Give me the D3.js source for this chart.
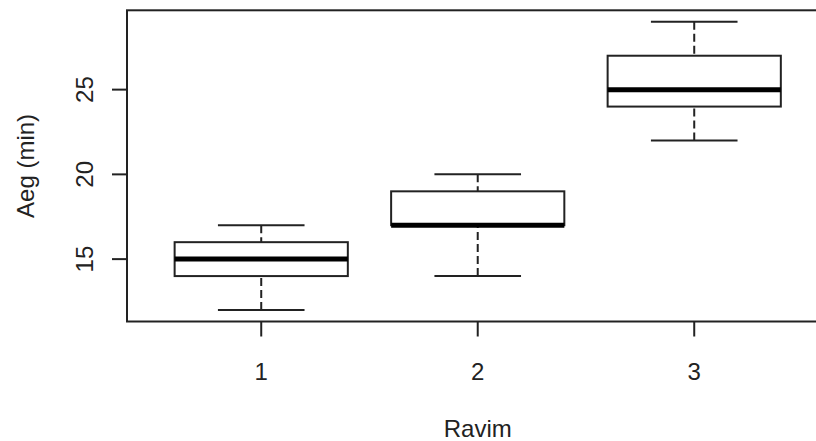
<!DOCTYPE html>
<html>
<head>
<meta charset="utf-8">
<script src="https://cdn.jsdelivr.net/npm/d3@7"></script>
<style>
  body { margin: 0; background: #fff; }
  svg { display: block; font-family: "Liberation Sans", Arial, sans-serif; }
</style>
</head>
<body>
<div id="chart"></div>
<script>
// boxplot stats per group
const groups = [1, 2, 3];
const lowerWhisker = [12, 14, 22];
const q1 = [14, 17, 24];
const median = [15, 17, 25];
const q3 = [16, 19, 27];
const upperWhisker = [17, 20, 29];
const yTicks = [15, 20, 25];
const xLabel = "Ravim";
const yLabel = "Aeg (min)";

const W = 816, H = 441;
const plot = { left: 127, top: 10.3, bottom: 321.5 };

const svg = d3.select("#chart").append("svg")
  .attr("width", W).attr("height", H);

// R style limits: 0.5..n+0.5 and data range, each padded by 4%
const xlo = 0.5 - 0.04 * groups.length, xhi = groups.length + 0.5 + 0.04 * groups.length;
const ymin = d3.min(lowerWhisker), ymax = d3.max(upperWhisker);
const ypad = (ymax - ymin) * 0.04;

const x = d3.scaleLinear().domain([xlo, xhi]).range([plot.left, plot.left + (xhi - xlo) * 216.5]);
const y = d3.scaleLinear().domain([ymin - ypad, ymax + ypad]).range([plot.bottom, plot.top]);

const ink = "#222";
const data = groups.map((g, i) => ({
  g, lo: lowerWhisker[i], q1: q1[i], med: median[i], q3: q3[i], hi: upperWhisker[i]
}));

const box = svg.append("g").selectAll("g").data(data).join("g");

// whiskers (dashed, drawn from whisker end toward the box)
box.append("line")
  .attr("x1", d => x(d.g)).attr("x2", d => x(d.g))
  .attr("y1", d => y(d.lo)).attr("y2", d => y(d.q1))
  .attr("stroke", ink).attr("stroke-width", 2).attr("stroke-dasharray", "8,4");
box.append("line")
  .attr("x1", d => x(d.g)).attr("x2", d => x(d.g))
  .attr("y1", d => y(d.hi)).attr("y2", d => y(d.q3))
  .attr("stroke", ink).attr("stroke-width", 2).attr("stroke-dasharray", "8,4");

// whisker caps
["lo", "hi"].forEach(k => {
  box.append("line")
    .attr("x1", d => x(d.g - 0.2)).attr("x2", d => x(d.g + 0.2))
    .attr("y1", d => y(d[k])).attr("y2", d => y(d[k]))
    .attr("stroke", ink).attr("stroke-width", 2);
});

// boxes
box.append("rect")
  .attr("x", d => x(d.g - 0.4))
  .attr("width", d => x(d.g + 0.4) - x(d.g - 0.4))
  .attr("y", d => y(d.q3))
  .attr("height", d => y(d.q1) - y(d.q3))
  .attr("fill", "#fff").attr("stroke", ink).attr("stroke-width", 2);

// medians
box.append("line")
  .attr("x1", d => x(d.g - 0.4)).attr("x2", d => x(d.g + 0.4))
  .attr("y1", d => y(d.med)).attr("y2", d => y(d.med))
  .attr("stroke", "#000").attr("stroke-width", 5);

// plot frame
svg.append("rect")
  .attr("x", plot.left).attr("y", plot.top)
  .attr("width", x.range()[1] - plot.left).attr("height", plot.bottom - plot.top)
  .attr("fill", "none").attr("stroke", ink).attr("stroke-width", 2);

// x axis ticks + labels
const xAxis = svg.append("g");
xAxis.selectAll("line").data(groups).join("line")
  .attr("x1", d => x(d)).attr("x2", d => x(d))
  .attr("y1", plot.bottom).attr("y2", plot.bottom + 15)
  .attr("stroke", ink).attr("stroke-width", 2);
xAxis.selectAll("text").data(groups).join("text")
  .attr("x", d => x(d)).attr("y", 380)
  .attr("text-anchor", "middle").attr("font-size", 24).attr("fill", ink)
  .text(d => d);

// y axis ticks + labels
const yAxis = svg.append("g");
yAxis.selectAll("line").data(yTicks).join("line")
  .attr("x1", plot.left - 15).attr("x2", plot.left)
  .attr("y1", d => y(d)).attr("y2", d => y(d))
  .attr("stroke", ink).attr("stroke-width", 2);
yAxis.selectAll("text").data(yTicks).join("text")
  .attr("transform", d => `translate(93,${y(d)}) rotate(-90)`)
  .attr("text-anchor", "middle").attr("font-size", 24).attr("fill", ink)
  .text(d => d);

// axis titles
svg.append("text")
  .attr("x", (plot.left + x.range()[1]) / 2).attr("y", 437)
  .attr("text-anchor", "middle").attr("font-size", 24).attr("fill", ink)
  .text(xLabel);
svg.append("text")
  .attr("transform", `translate(34,${(plot.top + plot.bottom) / 2}) rotate(-90)`)
  .attr("text-anchor", "middle").attr("font-size", 24).attr("fill", ink)
  .text(yLabel);
</script>
</body>
</html>
